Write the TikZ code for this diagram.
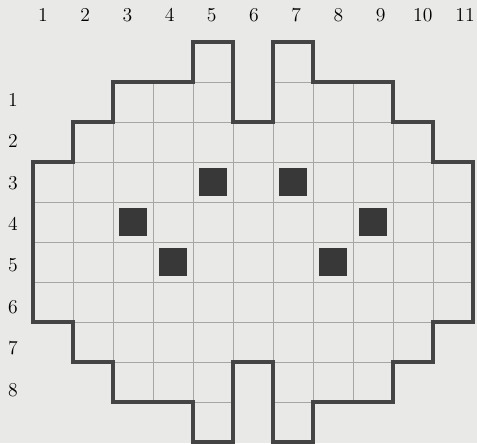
\documentclass[tikz,border=0pt]{standalone}
\usetikzlibrary{positioning}
\definecolor{paper}{RGB}{233,233,231}
\definecolor{ink}{RGB}{68,68,68}
% outline of the board, in cells (x to the right, y downwards)
\newcommand{\boardpath}{(0,3) -- (1,3) -- (1,2) -- (2,2) -- (2,1) -- (4,1) -- (4,0) -- (5,0) -- (5,2) -- (6,2) -- (6,0) -- (7,0) -- (7,1) -- (9,1) -- (9,2) -- (10,2) -- (10,3) -- (11,3) -- (11,7) -- (10,7) -- (10,8) -- (9,8) -- (9,9) -- (7,9) -- (7,10) -- (6,10) -- (6,8) -- (5,8) -- (5,10) -- (4,10) -- (4,9) -- (2,9) -- (2,8) -- (1,8) -- (1,7) -- (0,7) -- cycle}
\begin{document}
\begin{tikzpicture}[
    y=-1cm,
    every node/.style={font=\fontsize{14}{16}\selectfont},
    rim/.style  ={line width=2.6pt, ink, line join=miter},
    cell/.style ={line width=0.5pt, black!35},
    piece/.style={fill=black!78, minimum size=6.9mm, inner sep=0pt},
]
\fill[paper] (-0.825,-1.05) rectangle (11.1,10.025);
\useasboundingbox (-0.825,-1.05) rectangle (11.1,10.025);
\begin{scope}
  \clip \boardpath;
  \draw[cell] (0,0) grid (11,10);
\end{scope}
\draw[rim] \boardpath;
% numbering of columns and rows
\foreach \k in {1,...,11}
  \node (col\k) at ({0.25+1.055*(\k-1)},-0.675) {\k};
\foreach \k in {1,...,8}
  \node (row\k) at (-0.5,{1.45+1.035*(\k-1)}) {\k};
% the six pieces
\foreach \c/\r [count=\i] in {5/3,3/4,4/5,7/3,9/4,8/5}
  \node[piece] (p\i) at ({\c-0.5},{\r+0.5}) {};
\end{tikzpicture}
\end{document}
